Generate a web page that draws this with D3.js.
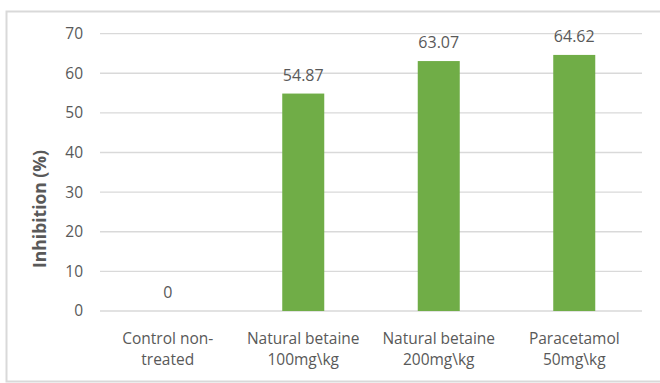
<!DOCTYPE html>
<html>
<head>
<meta charset="utf-8">
<script src="https://cdn.jsdelivr.net/npm/d3@7/dist/d3.min.js"></script>
<style>
  html, body { margin: 0; padding: 0; background: #fff; }
  svg { display: block; font-family: "Open Sans", "Noto Sans", sans-serif; }
</style>
</head>
<body>
<svg id="chart" width="660" height="383"></svg>
<script>
// Inhibition by treatment group
const categories = [
  ["Control non-", "treated"],
  ["Natural betaine", "100mg\\kg"],
  ["Natural betaine", "200mg\\kg"],
  ["Paracetamol", "50mg\\kg"]
];
const inhibition = [0, 54.87, 63.07, 64.62];
const yTicks = [0, 10, 20, 30, 40, 50, 60, 70];
const yTitle = "Inhibition (%)";

const svg = d3.select("#chart");
const W = 660, H = 383;
const margin = { left: 100, right: 18, top: 33.6, bottom: 72 };
const plotW = W - margin.left - margin.right;
const plotH = H - margin.top - margin.bottom;

const textColor = "#595959";
const gridColor = "#D9D9D9";
const barColor = "#70AD47";

// outer chart frame
svg.append("rect")
  .attr("x", 6.5).attr("y", 11.5)
  .attr("width", W + 10).attr("height", 370)
  .attr("fill", "none").attr("stroke", gridColor).attr("stroke-width", 2);

const g = svg.append("g").attr("transform", `translate(${margin.left},${margin.top})`);

const x = d3.scaleBand().domain(d3.range(categories.length)).range([0, plotW]).padding(0);
const y = d3.scaleLinear().domain([0, 70]).range([plotH, 0]);
const barW = x.bandwidth() * 0.31;

// horizontal gridlines
g.append("g").selectAll("line").data(yTicks).join("line")
  .attr("x1", 0).attr("x2", plotW)
  .attr("y1", d => y(d)).attr("y2", d => y(d))
  .attr("stroke", gridColor).attr("stroke-width", 1.3);

// y axis labels
const yAxis = g.append("g").call(d3.axisLeft(y).tickValues(yTicks).tickSize(0).tickPadding(17));
yAxis.select(".domain").remove();
yAxis.selectAll("text").attr("fill", textColor).attr("font-size", 15.5).attr("font-family", "Open Sans, sans-serif");

// bars
g.append("g").selectAll("rect").data(inhibition).join("rect")
  .attr("x", (d, i) => x(i) + (x.bandwidth() - barW) / 2)
  .attr("y", d => y(d))
  .attr("width", barW)
  .attr("height", d => y(0) - y(d))
  .attr("fill", barColor);

// value labels
g.append("g").selectAll("text").data(inhibition).join("text")
  .attr("x", (d, i) => x(i) + x.bandwidth() / 2)
  .attr("y", d => y(d) - 13)
  .attr("text-anchor", "middle")
  .attr("fill", textColor)
  .attr("font-size", 16)
  .text(d => d === 0 ? "0" : d.toFixed(2));

// category labels (two lines each)
const cat = g.append("g").selectAll("text").data(categories).join("text")
  .attr("x", (d, i) => x(i) + x.bandwidth() / 2)
  .attr("y", plotH + 33)
  .attr("text-anchor", "middle")
  .attr("fill", textColor)
  .attr("font-size", 15.5);
cat.selectAll("tspan").data(d => d).join("tspan")
  .attr("x", function () { return d3.select(this.parentNode).attr("x"); })
  .attr("dy", (d, i) => i === 0 ? 0 : 21)
  .text(d => d);

// y axis title
svg.append("text")
  .attr("transform", `translate(46,209) rotate(-90)`)
  .attr("text-anchor", "middle")
  .attr("fill", textColor)
  .attr("font-size", 17.5)
  .attr("font-weight", "bold")
  .text(yTitle);
</script>
</body>
</html>
